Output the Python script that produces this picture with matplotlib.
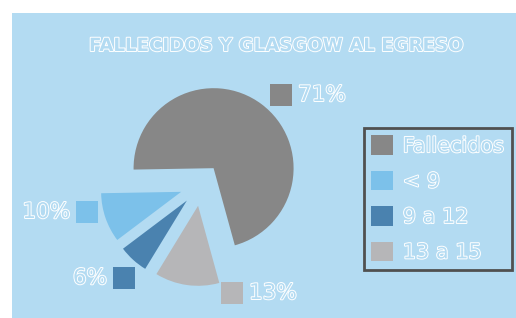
import matplotlib
matplotlib.use("Agg")
import matplotlib.pyplot as plt
import matplotlib.patheffects as pe
from matplotlib.patches import Rectangle

# ---- data ----
categories = ["Fallecidos", "< 9", "9 a 12", "13 a 15"]
values = [71, 10, 6, 13]
pct_labels = ["71%", "10%", "6%", "13%"]
colors = ["#878787", "#7cc1ea", "#4a82af", "#b6b6b8"]
title = "FALLECIDOS Y GLASGOW AL EGRESO"

# ---- layout (pixel-like coordinates, y up) ----
W, H = 516, 318
panel_color = "#b3dbf2"
center = (201, H - 185)
radius = 80
explode_px = 21
# label square centre and which side the text goes
label_layout = [((281, H - 95), "right"),
                ((87, H - 212), "left"),
                ((124, H - 278), "left"),
                ((232, H - 293), "right")]
sq = 22

fig = plt.figure(figsize=(W / 100, H / 100), dpi=100, facecolor="white")
ax = fig.add_axes([0, 0, 1, 1])
ax.add_patch(Rectangle((12, 0), W - 12, H - 13, facecolor=panel_color,
                       edgecolor="none", zorder=0))

outline = [pe.withStroke(linewidth=1.4, foreground="white")]

wedges, _ = ax.pie(values, colors=colors, startangle=-74.6, counterclock=True,
                   explode=[explode_px] * len(values), radius=radius,
                   center=center, wedgeprops=dict(linewidth=0))
ax.set_xlim(0, W)
ax.set_ylim(0, H)
ax.set_aspect("equal")
ax.axis("off")

for (pos, side), lab, col in zip(label_layout, pct_labels, colors):
    ax.add_patch(Rectangle((pos[0] - sq / 2, pos[1] - sq / 2), sq, sq,
                           facecolor=col, edgecolor="none", zorder=3))
    if side == "right":
        ax.text(pos[0] + sq / 2 + 6, pos[1], lab, ha="left", va="center",
                fontsize=15.5, color=panel_color, path_effects=outline, zorder=4)
    else:
        ax.text(pos[0] - sq / 2 - 6, pos[1], lab, ha="right", va="center",
                fontsize=15.5, color=panel_color, path_effects=outline, zorder=4)

ax.text(275, H - 51, title, ha="center", va="baseline", fontsize=13.1,
        fontweight="bold", color=panel_color, path_effects=outline, zorder=4)

leg = ax.legend(wedges, categories, loc="upper left",
                bbox_to_anchor=(364 / W, 1 - 128 / H), bbox_transform=fig.transFigure,
                borderaxespad=0, fontsize=15, handlelength=1.06, handleheight=1.06,
                labelspacing=0.7, borderpad=0.35, handletextpad=0.45,
                fancybox=False, framealpha=1, facecolor=panel_color,
                edgecolor="#505050")
leg.get_frame().set_linewidth(2)
for t in leg.get_texts():
    t.set_color(panel_color)
    t.set_path_effects(outline)

fig.savefig("out.png", dpi=100, facecolor="white")
